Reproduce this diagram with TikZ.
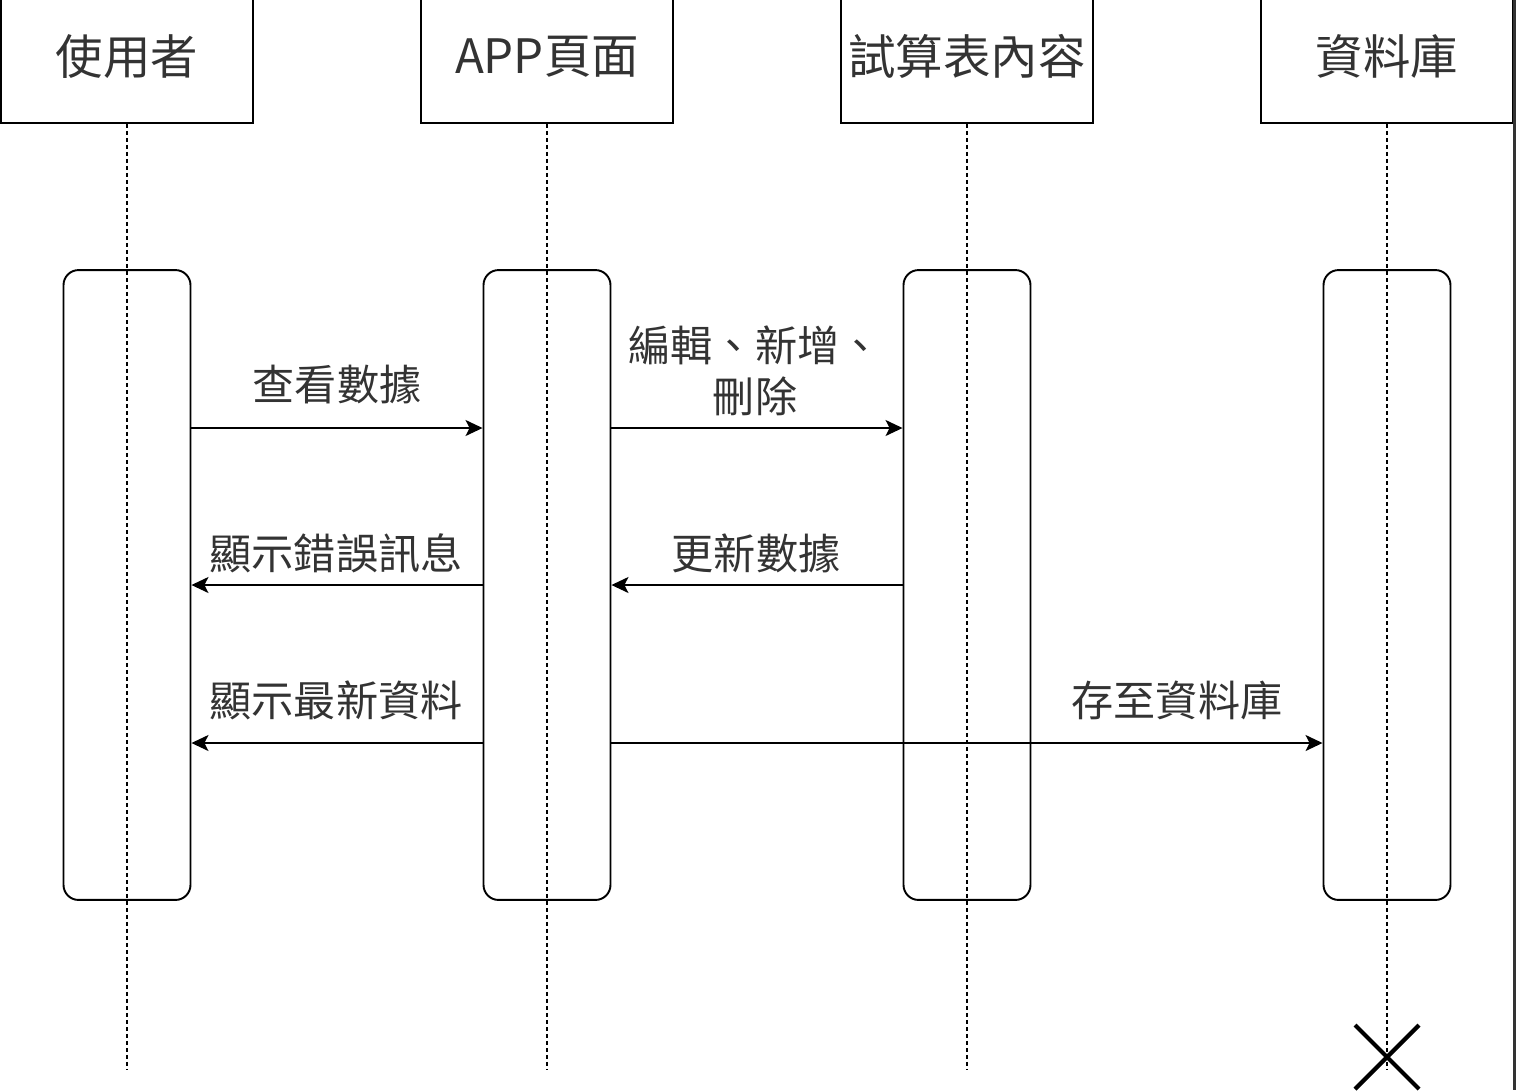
\documentclass[tikz,border=0pt]{standalone}
\usepackage{fontspec}
\newfontfamily\cjk{Noto Sans CJK TC}
\usetikzlibrary{arrows.meta,calc}

\tikzset{
  head/.style={draw,line width=1.1pt,minimum width=5.04cm,minimum height=2.66cm,
    inner sep=0pt,text=black!80,font=\cjk\fontsize{27}{30}\selectfont},
  act/.style={draw,line width=1.1pt,rounded corners=0.3cm,minimum width=2.54cm,
    minimum height=12.6cm,inner sep=0pt},
  life/.style={line width=1pt,dash pattern=on 0.08cm off 0.06cm},
  msg/.style={line width=0.9pt,-{Stealth[length=0.34cm,width=0.32cm,inset=0.08cm]}},
  lbl/.style={font=\cjk\fontsize{24}{29}\selectfont,text=black!80,align=center,inner sep=0pt}
}

\begin{document}
\begin{tikzpicture}[x=0.02cm,y=-0.02cm]

      \useasboundingbox (0,0) rectangle (1516,1090);

      % lifeline heads
      \node[head] (h1) at (127,56.5) {使用者};
      \node[head] (h2) at (547,56.5) {APP頁面};
      \node[head] (h3) at (967,56.5) {試算表內容};
      \node[head] (h4) at (1387,56.5) {資料庫};

      \coordinate (lend) at (0,1070);
      \coordinate (r1) at (0,428);
      \coordinate (r2) at (0,585);
      \coordinate (r3) at (0,743);

      % activations
      \foreach \i/\x in {1/127,2/547,3/967,4/1387}{
        \node[act] (act\i) at (\x,585) {};
        \draw[life] (h\i.south) -- (h\i.south |- lend);
      }

      % messages
      \draw[msg] (act1.east |- r1) -- (act2.west |- r1);
      \draw[msg] (act2.east |- r1) -- (act3.west |- r1);
      \draw[msg] (act2.west |- r2) -- (act1.east |- r2);
      \draw[msg] (act3.west |- r2) -- (act2.east |- r2);
      \draw[msg] (act2.west |- r3) -- (act1.east |- r3);
      \draw[msg] (act2.east |- r3) -- (act4.west |- r3);

      \node[lbl] (m1) at (337,385) {查看數據};
      \node[lbl] (m2) at (755,371) {編輯、新增、\\刪除};
      \node[lbl] (m3) at (336,553) {顯示錯誤訊息};
      \node[lbl] (m4) at (756,553) {更新數據};
      \node[lbl] (m5) at (336,700) {顯示最新資料};
      \node[lbl] (m6) at (1177,700) {存至資料庫};

      % destruction
      \coordinate (kill) at (1387,1057);
      \draw[line width=2.4pt] ($(kill)+(-32,-32)$) -- ($(kill)+(32,32)$);
      \draw[line width=2.4pt] ($(kill)+(-32,32)$) -- ($(kill)+(32,-32)$);

      % right edge
      \draw[line width=1.6pt,black!80] (1514.5,0) -- (1514.5,1090);

    \end{tikzpicture}
\end{document}
